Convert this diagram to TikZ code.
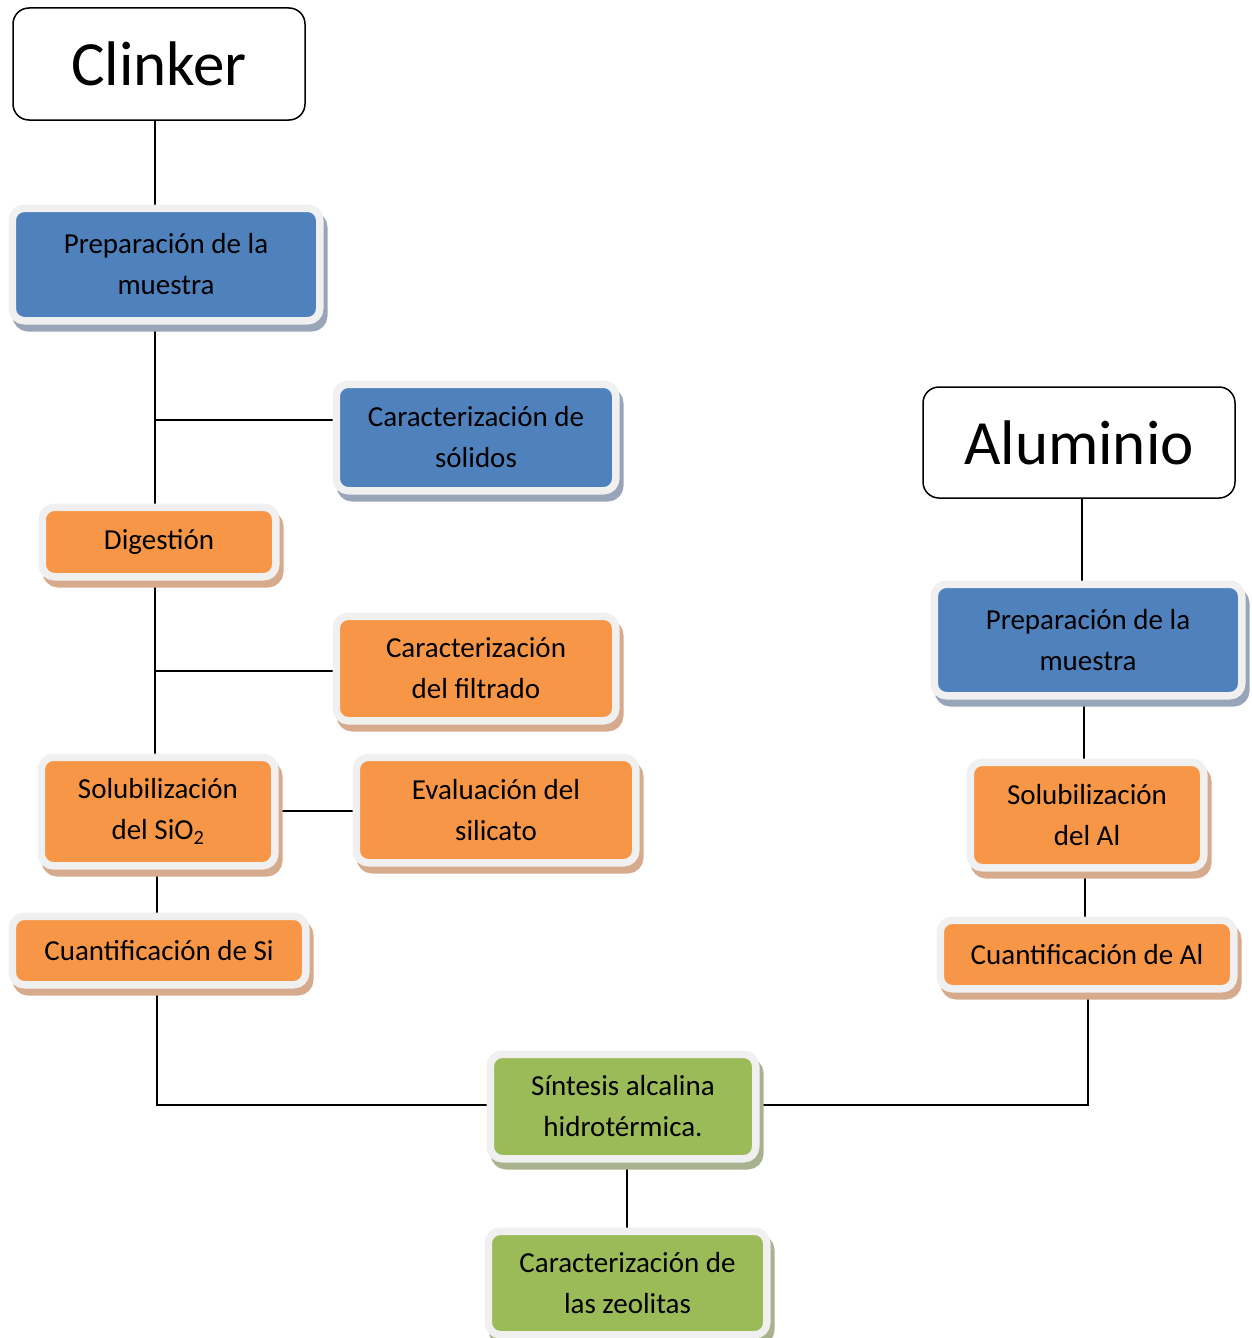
\documentclass[tikz,border=0pt]{standalone}
\usepackage{fontspec}
\setmainfont{Carlito}
\usetikzlibrary{backgrounds}
\definecolor{bl}{HTML}{4F81BD}
\definecolor{og}{HTML}{F79646}
\definecolor{gr}{HTML}{9BBB59}
\definecolor{frm}{HTML}{F0F0F0}
\definecolor{blsh}{RGB}{152,164,184}
\definecolor{ogsh}{RGB}{214,170,140}
\definecolor{grsh}{RGB}{168,178,142}
\tikzset{
  stepbox/.style={rounded corners=12pt, draw=frm, line width=7.5pt, inner sep=0pt,
    align=center, font=\fontsize{29}{41}\selectfont, text=black},
  sh/.style={preaction={draw=#1, fill=#1, line width=7.5pt,
    transform canvas={shift={(4pt,-7pt)}}}},
  bluebox/.style={stepbox, sh=blsh, fill=bl},
  orangebox/.style={stepbox, sh=ogsh, fill=og},
  greenbox/.style={stepbox, sh=grsh, fill=gr},
  titlebox/.style={rounded corners=16pt, draw=black, line width=1.5pt, fill=white,
    inner sep=0pt, font=\fontsize{63}{70}\selectfont},
  conn/.style={line width=1.6pt, black},
}
\begin{document}
\begin{tikzpicture}[x=1pt, y=-1pt]
\useasboundingbox (0,0) rectangle (1251,1338);
% title boxes
\node[titlebox, minimum width=292pt, minimum height=112pt] (clinker) at (159,64) {Clinker};
\node[titlebox, minimum width=312pt, minimum height=111pt] (alum) at (1079,442.5) {Aluminio};
% left column
\node[bluebox, minimum width=307.5pt, minimum height=112.5pt] (prep1) at (166,264.5) {Preparación de la\\muestra};
\node[bluebox, minimum width=279.5pt, minimum height=106.5pt] (cs) at (476,437.5) {Caracterización de\\sólidos};
\node[orangebox, minimum width=233.5pt, minimum height=69.5pt] (dig) at (159,542) {Digestión};
\node[orangebox, minimum width=279.5pt, minimum height=104.5pt] (cf) at (476,668.5) {Caracterización\\del filtrado};
\node[orangebox, minimum width=233.5pt, minimum height=108.5pt] (sol) at (158,811.5) {Solubilización\\del SiO\textsubscript{2}};
\node[orangebox, minimum width=279.5pt, minimum height=105.5pt] (ev) at (496,810) {Evaluación del\\silicato};
\node[orangebox, minimum width=293.5pt, minimum height=68.5pt] (cusi) at (159,950.5) {Cuantificación de Si};
% right column
\node[bluebox, minimum width=307.5pt, minimum height=111.5pt] (prep2) at (1088,640) {Preparación de la\\muestra};
\node[orangebox, minimum width=233.5pt, minimum height=105.5pt] (solal) at (1087,815) {Solubilización\\del Al};
\node[orangebox, minimum width=293.5pt, minimum height=68.5pt] (cual) at (1087,954.5) {Cuantificación de Al};
% bottom
\node[greenbox, minimum width=265.5pt, minimum height=104.5pt] (sin) at (623,1106.5) {Síntesis alcalina\\hidrotérmica.};
\node[greenbox, minimum width=278.5pt, minimum height=103.5pt] (cz) at (627.5,1283) {Caracterización de\\las zeolitas};
% helper coordinates
\coordinate (xa) at (155,0);
\coordinate (xb) at (157,0);
\coordinate (xc) at (1082,0);
\coordinate (xd) at (1084,0);
\coordinate (xe) at (1085,0);
\coordinate (xf) at (1088,0);
\coordinate (xg) at (627,0);
\coordinate (ya) at (0,420);
\coordinate (yb) at (0,671);
\coordinate (yc) at (0,811);
\coordinate (yd) at (0,1105);
\begin{pgfonlayer}{background}
\draw[conn] (clinker.south -| xa) -- (prep1.north -| xa);
\draw[conn] (prep1.south -| xa) -- (dig.north -| xa);
\draw[conn] (xa |- ya) -- (cs.west |- ya);
\draw[conn] (dig.south -| xa) -- (sol.north -| xa);
\draw[conn] (xa |- yb) -- (cf.west |- yb);
\draw[conn] (sol.east |- yc) -- (ev.west |- yc);
\draw[conn] (sol.south -| xb) -- (cusi.north -| xb);
\draw[conn] (cusi.south -| xb) -- (xb |- yd) -- (sin.west |- yd);
\draw[conn] (alum.south -| xc) -- (prep2.north -| xc);
\draw[conn] (prep2.south -| xd) -- (solal.north -| xd);
\draw[conn] (solal.south -| xe) -- (cual.north -| xe);
\draw[conn] (cual.south -| xf) -- (xf |- yd) -- (sin.east |- yd);
\draw[conn] (sin.south -| xg) -- (cz.north -| xg);
\end{pgfonlayer}
\end{tikzpicture}
\end{document}
